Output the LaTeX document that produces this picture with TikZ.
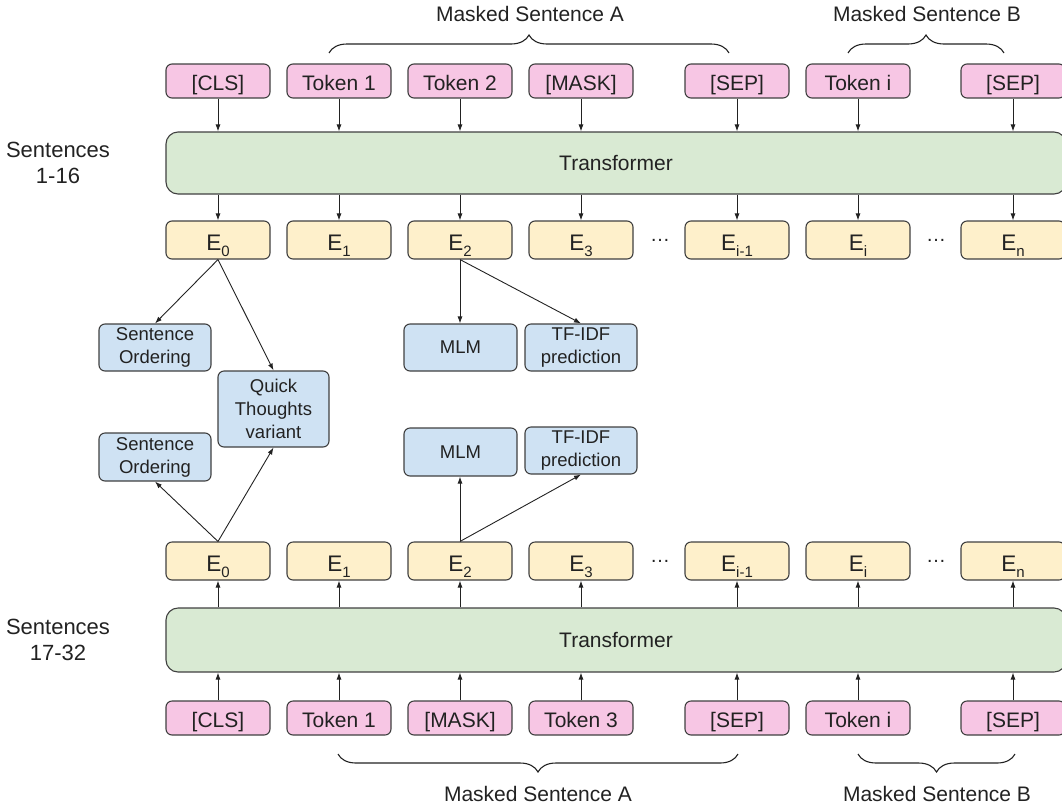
\documentclass[tikz,border=0pt]{standalone}
\usepackage{fontspec}
\setmainfont{Liberation Sans}
\usetikzlibrary{arrows.meta,decorations.pathreplacing}
\definecolor{pinkc}{HTML}{F7C6E4}
\definecolor{yelc}{HTML}{FEF0CB}
\definecolor{grnc}{HTML}{D9EAD3}
\definecolor{bluc}{HTML}{CFE2F3}
\definecolor{edgec}{HTML}{404040}
\definecolor{txtc}{HTML}{222222}
\newcommand\Esub[1]{E\raisebox{-6pt}{\fontsize{15}{15}\selectfont #1}}
\begin{document}
\begin{tikzpicture}[x=1pt,y=-1pt,
 box/.style={draw=edgec, line width=1.1pt, rounded corners=6pt, inner sep=0pt, text=txtc},
 tok/.style={box, fill=pinkc, minimum width=104pt, minimum height=34pt, font=\fontsize{21}{25}\selectfont, text height=18pt, text depth=0pt},
 emb/.style={box, fill=yelc, minimum width=104pt, minimum height=38pt, font=\fontsize{22.5}{25}\selectfont, text height=21pt, text depth=0pt},
 task/.style={box, fill=bluc, minimum width=112pt, font=\fontsize{18.5}{23}\selectfont, align=center},
 trans/.style={box, fill=grnc, rounded corners=12pt, minimum width=900pt, font=\fontsize{21}{25}\selectfont},
 arr/.style={draw=txtc, line width=0.9pt, -{Latex[length=7pt,width=5pt]}},
 brc/.style={draw=txtc, line width=1.1pt, decoration={brace, amplitude=18pt}, decorate},
 lab/.style={font=\fontsize{21}{25}\selectfont, text=txtc, align=center},
 dots/.style={font=\fontsize{20}{20}\selectfont, text=txtc, inner sep=0pt}
]
\useasboundingbox (0,0) rectangle (1062,809);

% side labels
\node[lab, font=\fontsize{22}{26}\selectfont] (s1) at (58,163) {Sentences\\1-16};
\node[lab, font=\fontsize{22}{26}\selectfont] (s2) at (58,640) {Sentences\\17-32};

% top tokens
\node[tok] (t1) at (218,81) {[CLS]};
\node[tok] (t2) at (339,81) {Token 1};
\node[tok] (t3) at (460,81) {Token 2};
\node[tok] (t4) at (581,81) {[MASK]};
\node[tok] (t5) at (737,81) {[SEP]};
\node[tok] (t6) at (858,81) {Token i};
\node[tok] (t7) at (1013,81) {[SEP]};

% top transformer
\node[trans, minimum height=62pt] (tr1) at (616,163) {Transformer};

% top embeddings
\node[emb] (e1) at (218,240) {\Esub{0}};
\node[emb] (e2) at (339,240) {\Esub{1}};
\node[emb] (e3) at (460,240) {\Esub{2}};
\node[emb] (e4) at (581,240) {\Esub{3}};
\node[emb] (e5) at (737,240) {\Esub{i-1}};
\node[emb] (e6) at (858,240) {\Esub{i}};
\node[emb] (e7) at (1013,240) {\Esub{n}};
\node[dots] (d1) at (660,240) {…};
\node[dots] (d2) at (936,240) {…};

% top tasks
\node[task, minimum height=47pt] (so1) at (155,347.5) {Sentence\\Ordering};
\node[task, minimum width=111pt, minimum height=76pt] (qt) at (273.5,409) {Quick\\Thoughts\\variant};
\node[task, minimum width=113pt, minimum height=47pt] (mlm1) at (460.5,347.5) {MLM};
\node[task, minimum height=47pt] (tf1) at (581,347.5) {TF-IDF\\prediction};

% bottom tasks
\node[task, minimum height=48pt] (so2) at (155,457) {Sentence\\Ordering};
\node[task, minimum width=113pt, minimum height=48pt] (mlm2) at (460.5,452) {MLM};
\node[task, minimum height=47pt] (tf2) at (581,450.5) {TF-IDF\\prediction};

% bottom embeddings
\node[emb] (f1) at (218,561) {\Esub{0}};
\node[emb] (f2) at (339,561) {\Esub{1}};
\node[emb] (f3) at (460,561) {\Esub{2}};
\node[emb] (f4) at (581,561) {\Esub{3}};
\node[emb] (f5) at (737,561) {\Esub{i-1}};
\node[emb] (f6) at (858,561) {\Esub{i}};
\node[emb] (f7) at (1013,561) {\Esub{n}};
\node[dots] (d3) at (660,561) {…};
\node[dots] (d4) at (936,561) {…};

% bottom transformer
\node[trans, minimum height=64pt] (tr2) at (616,640) {Transformer};

% bottom tokens
\node[tok] (b1) at (218,718) {[CLS]};
\node[tok] (b2) at (339,718) {Token 1};
\node[tok] (b3) at (460,718) {[MASK]};
\node[tok] (b4) at (581,718) {Token 3};
\node[tok] (b5) at (737,718) {[SEP]};
\node[tok] (b6) at (858,718) {Token i};
\node[tok] (b7) at (1013,718) {[SEP]};

% vertical arrows
\foreach \n in {1,...,7} {
  \draw[arr] (t\n.south) -- (t\n.south |- tr1.north);
  \draw[arr] (e\n.north |- tr1.south) -- (e\n.north);
  \draw[arr] (f\n.south |- tr2.north) -- (f\n.south);
  \draw[arr] (b\n.north) -- (b\n.north |- tr2.south);
}

% task arrows
\draw[arr] (e1.south) -- (so1.north);
\draw[arr] (e1.south) -- (qt.north);
\draw[arr] (e3.south) -- (mlm1.north -| e3.south);
\draw[arr] (e3.south) -- (tf1.north);
\draw[arr] (f1.north) -- (so2.south);
\draw[arr] (f1.north) -- (qt.south);
\draw[arr] (f3.north) -- (mlm2.south -| f3.north);
\draw[arr] (f3.north) -- (tf2.south);

% braces
\coordinate (ba1) at (329,53); \coordinate (ba2) at (729,53);
\coordinate (bb1) at (848,53); \coordinate (bb2) at (1004,53);
\coordinate (ca1) at (738,754); \coordinate (ca2) at (338,754);
\coordinate (cb1) at (1015,754); \coordinate (cb2) at (858,754);
\draw[brc] (ba1) -- (ba2);
\draw[brc] (bb1) -- (bb2);
\draw[brc] (ca1) -- (ca2);
\draw[brc] (cb1) -- (cb2);

\node[lab] (la) at (530,14) {Masked Sentence A};
\node[lab] (lb) at (927,14) {Masked Sentence B};
\node[lab] (lc) at (538,794) {Masked Sentence A};
\node[lab] (ld) at (937,794) {Masked Sentence B};
\end{tikzpicture}
\end{document}
